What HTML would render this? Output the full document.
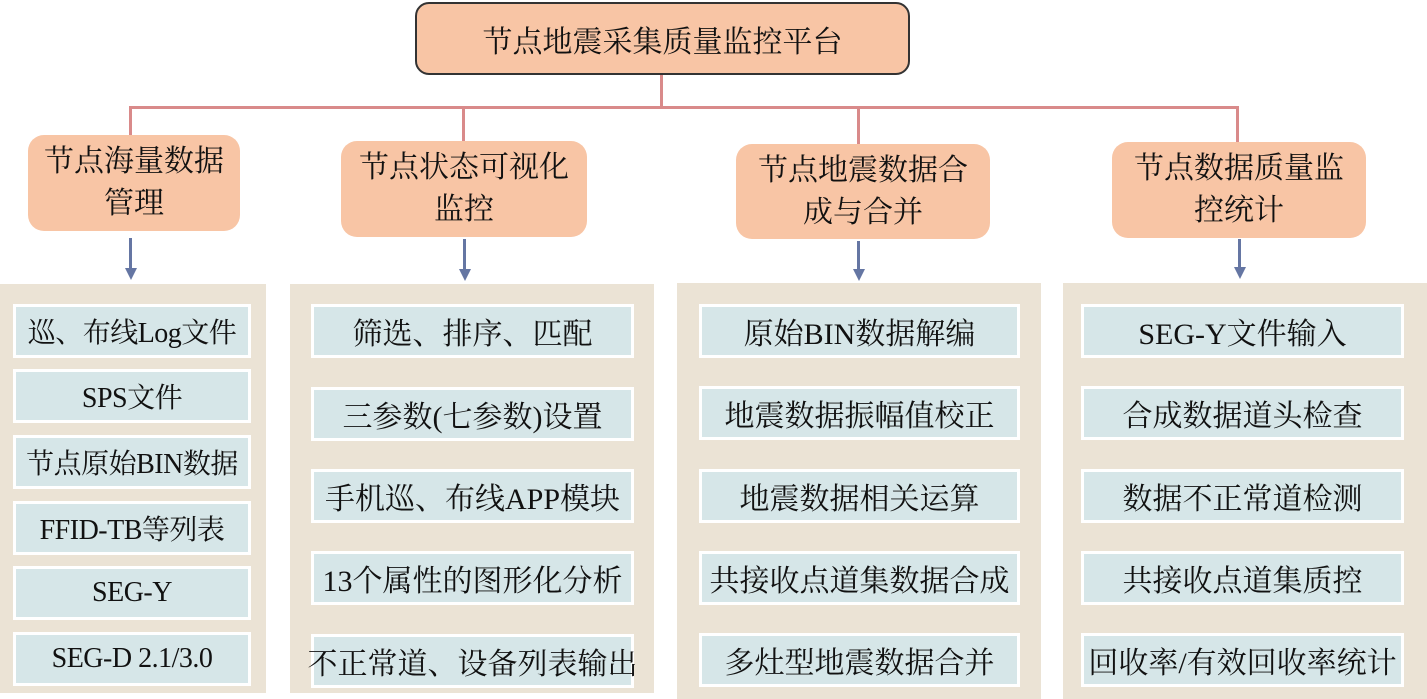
<!DOCTYPE html>
<html><head><meta charset="utf-8"><style>
body{margin:0;width:1427px;height:699px;background:#fff;position:relative;overflow:hidden;font-family:"Liberation Serif","Noto Serif CJK SC",serif;color:#111}
div{position:absolute;box-sizing:border-box}
.top{left:415px;top:2px;width:495px;height:73px;background:#f8c5a5;border:2px solid #333;border-radius:14px;font-size:30px;display:flex;align-items:center;justify-content:center}
.h{background:#f8c5a5;border-radius:16px;font-size:30px;line-height:42px;text-align:center;display:flex;align-items:center;justify-content:center}
.ln{background:#d98a8a}
.ar{width:3px;background:#6576a3}
.ah{width:0;height:0;border-left:6px solid transparent;border-right:6px solid transparent;border-top:12px solid #6576a3}
.p{background:#ebe3d5}
.i{background:#d6e6e8;border:3px solid #fff;font-size:30px;display:flex;align-items:center;justify-content:center;white-space:nowrap;overflow:visible;height:54px}
.c1{font-size:28px;letter-spacing:-0.5px}
</style></head><body>
<div class="top">节点地震采集质量监控平台</div>
<div class="ln" style="left:660px;top:75px;width:3px;height:34px"></div>
<div class="ln" style="left:129px;top:106px;width:1110px;height:3px"></div>
<div class="ln" style="left:129px;top:106px;width:3px;height:29px"></div>
<div class="ln" style="left:462px;top:106px;width:3px;height:35px"></div>
<div class="ln" style="left:857px;top:106px;width:3px;height:38px"></div>
<div class="ln" style="left:1236px;top:106px;width:3px;height:36px"></div>

<div class="h" style="left:28px;top:135px;width:212px;height:96px">节点海量数据<br>管理</div>
<div class="h" style="left:341px;top:141px;width:246px;height:96px">节点状态可视化<br>监控</div>
<div class="h" style="left:736px;top:144px;width:254px;height:95px">节点地震数据合<br>成与合并</div>
<div class="h" style="left:1112px;top:142px;width:254px;height:96px">节点数据质量监<br>控统计</div>

<div class="ar" style="left:129px;top:238px;height:32px"></div><div class="ah" style="left:124.5px;top:268px"></div>
<div class="ar" style="left:463px;top:239px;height:32px"></div><div class="ah" style="left:458.5px;top:269px"></div>
<div class="ar" style="left:857px;top:241px;height:30px"></div><div class="ah" style="left:852.5px;top:269px"></div>
<div class="ar" style="left:1238px;top:239px;height:30px"></div><div class="ah" style="left:1233.5px;top:267px"></div>

<div class="p" style="left:0;top:284px;width:266px;height:409px"></div>
<div class="p" style="left:290px;top:284px;width:364px;height:409px"></div>
<div class="p" style="left:677px;top:283px;width:364px;height:416px"></div>
<div class="p" style="left:1063px;top:283px;width:364px;height:416px"></div>

<div class="i c1" style="left:13px;top:304px;width:238px">巡、布线Log文件</div>
<div class="i c1" style="left:13px;top:369px;width:238px">SPS文件</div>
<div class="i c1" style="left:13px;top:435px;width:238px">节点原始BIN数据</div>
<div class="i c1" style="left:13px;top:501px;width:238px">FFID-TB等列表</div>
<div class="i c1" style="left:13px;top:566px;width:238px">SEG-Y</div>
<div class="i c1" style="left:13px;top:632px;width:238px">SEG-D 2.1/3.0</div>

<div class="i" style="left:311px;top:304px;width:323px">筛选、排序、匹配</div>
<div class="i" style="left:311px;top:387px;width:323px">三参数(七参数)设置</div>
<div class="i" style="left:311px;top:469px;width:323px">手机巡、布线APP模块</div>
<div class="i" style="left:311px;top:551px;width:323px">13个属性的图形化分析</div>
<div class="i" style="left:311px;top:634px;width:323px">不正常道、设备列表输出</div>

<div class="i" style="left:699px;top:304px;width:321px">原始BIN数据解编</div>
<div class="i" style="left:699px;top:386px;width:321px">地震数据振幅值校正</div>
<div class="i" style="left:699px;top:469px;width:321px">地震数据相关运算</div>
<div class="i" style="left:699px;top:551px;width:321px">共接收点道集数据合成</div>
<div class="i" style="left:699px;top:633px;width:321px">多灶型地震数据合并</div>

<div class="i" style="left:1081px;top:304px;width:323px">SEG-Y文件输入</div>
<div class="i" style="left:1081px;top:386px;width:323px">合成数据道头检查</div>
<div class="i" style="left:1081px;top:469px;width:323px">数据不正常道检测</div>
<div class="i" style="left:1081px;top:551px;width:323px">共接收点道集质控</div>
<div class="i" style="left:1081px;top:633px;width:323px">回收率/有效回收率统计</div>
</body></html>
